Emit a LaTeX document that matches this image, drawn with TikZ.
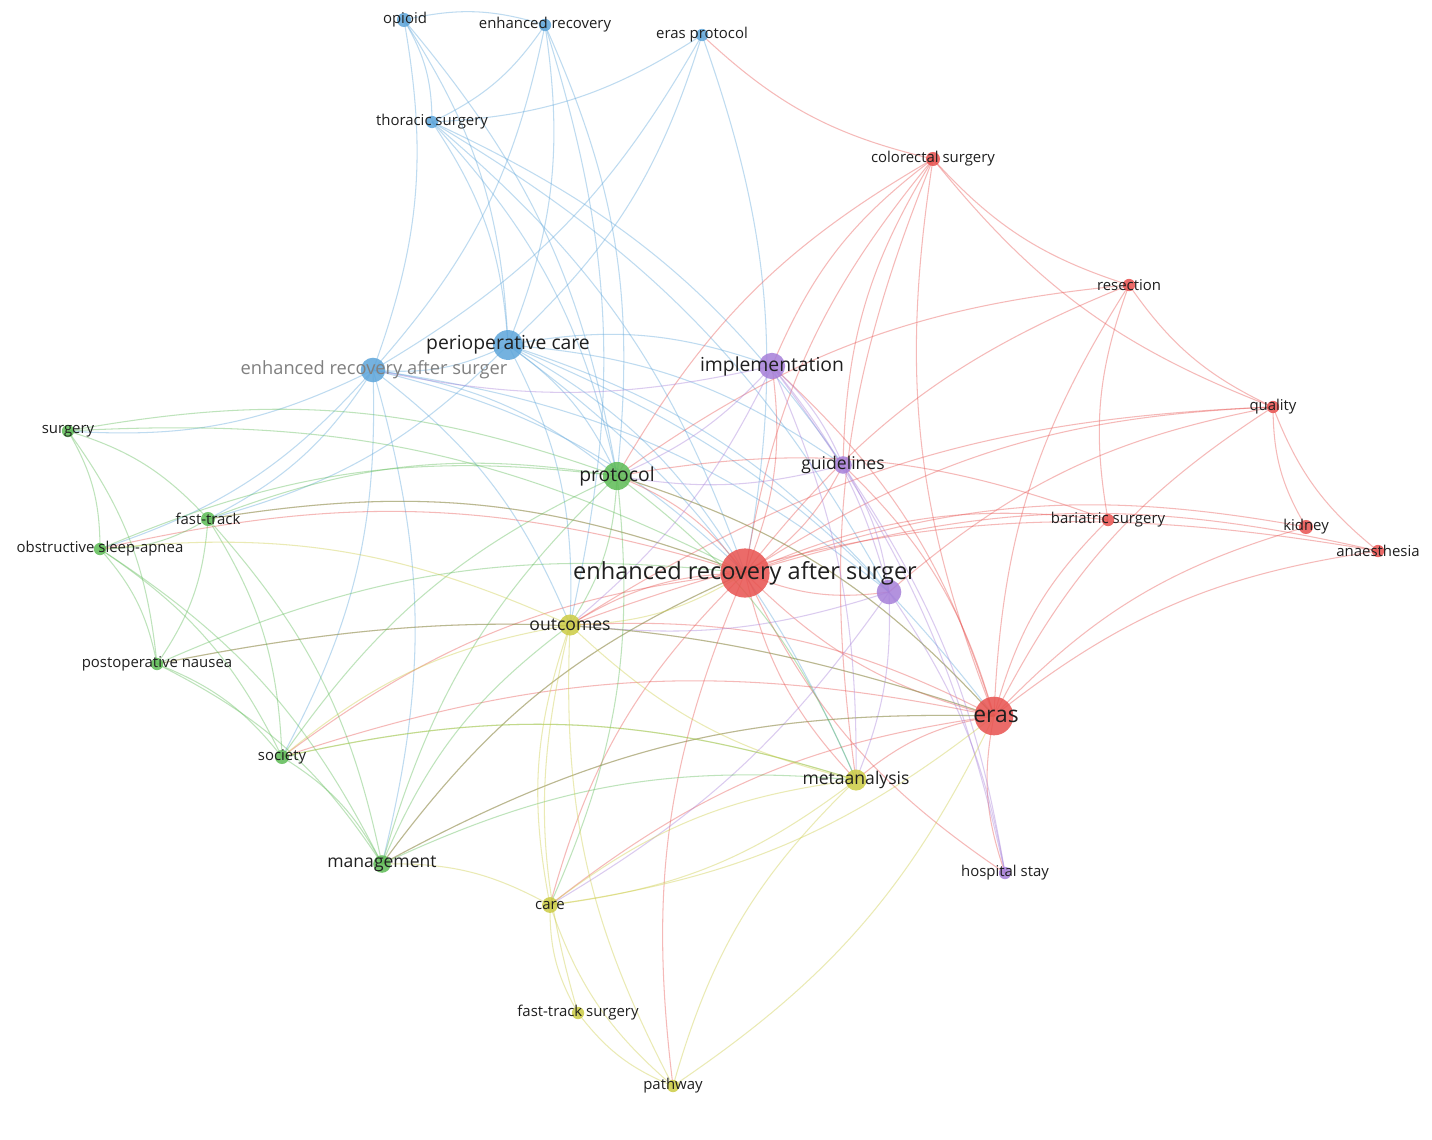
\documentclass[tikz,border=0pt]{standalone}
\usepackage{fontspec}
\setmainfont{Open Sans}
\definecolor{cb}{HTML}{5DA5DA}
\definecolor{cr}{HTML}{E8524F}
\definecolor{cg}{HTML}{5DBB55}
\definecolor{cy}{HTML}{CCCC44}
\definecolor{cp}{HTML}{A67FD9}
\begin{document}
\begin{tikzpicture}[x=0.02cm,y=-0.02cm,
  dot/.style={circle,inner sep=0pt,opacity=0.85},
  lab/.style={font=\fontsize{8.5}{9}\selectfont,text=black!88,inner sep=0pt},
  midlab/.style={font=\fontsize{10}{11}\selectfont,text=black!88,inner sep=0pt},
  biglab/.style={font=\fontsize{11}{12}\selectfont,text=black!88,inner sep=0pt},
  edge/.style={line width=0.6pt,opacity=0.4}]
\useasboundingbox (0,0) rectangle (1432,1139);
\fill[white] (0,0) rectangle (1432,1139);
\coordinate (op) at (404,20);
\coordinate (er) at (545,25);
\coordinate (ep) at (702,35);
\coordinate (th) at (432,122);
\coordinate (pc) at (508,345);
\coordinate (be) at (373,370);
\coordinate (cs) at (933,159);
\coordinate (rs) at (1129,285);
\coordinate (qu) at (1273,407);
\coordinate (ki) at (1306,527);
\coordinate (an) at (1378,551);
\coordinate (ba) at (1108,520);
\coordinate (es) at (994,716);
\coordinate (mn) at (745,573);
\coordinate (im) at (772,366);
\coordinate (gu) at (843,465);
\coordinate (pu) at (889,592);
\coordinate (hs) at (1005,873);
\coordinate (su) at (68,431);
\coordinate (ft) at (208,519);
\coordinate (os) at (100,549);
\coordinate (pn) at (157,664);
\coordinate (so) at (282,757);
\coordinate (ma) at (382,864);
\coordinate (pr) at (617,476);
\coordinate (ou) at (570,625);
\coordinate (me) at (856,780);
\coordinate (ca) at (550,905);
\coordinate (fs) at (578,1013);
\coordinate (pa) at (673,1086);
% edges
\foreach \a/\b in {op/er,op/th,op/be,op/pc,op/pr,er/pc,er/be,er/ou,er/pr,er/th,ep/pc,ep/be,ep/th,ep/mn,th/pc,th/mn,th/pu,th/gu,th/pr,pc/be,pc/pr,pc/mn,pc/im,pc/gu,pc/pu,pc/es,pc/ft,pc/ou,pc/me,be/ft,be/su,be/pr,be/mn,be/so,be/ma,be/ou,be/os,be/pu}
  {\draw[edge,cb] (\a) to[bend left=15] (\b);}
\foreach \a/\b in {ep/cs,cs/mn,cs/es,cs/rs,cs/qu,cs/im,cs/pr,cs/me,cs/gu,rs/qu,rs/ba,rs/mn,rs/es,rs/pr,qu/ki,qu/an,qu/es,qu/mn,qu/pu,qu/ou,ki/es,ki/mn,an/es,an/mn,an/ou,ba/mn,ba/es,ba/pr,mn/es,mn/pr,mn/ou,mn/im,mn/gu,mn/pu,mn/me,mn/ca,mn/ma,mn/so,mn/pa,mn/hs,mn/ft,mn/os,es/pr,es/ou,es/ca,es/ma,es/me,es/hs,es/so,es/pn,es/gu,es/im}
  {\draw[edge,cr] (\a) to[bend right=15] (\b);}
\foreach \a/\b in {im/gu,im/pu,im/pr,im/ou,im/me,im/hs,gu/pu,gu/hs,gu/pr,pu/hs,pu/me,pu/ou,pu/ca,im/be}
  {\draw[edge,cp] (\a) to[bend left=12] (\b);}
\foreach \a/\b in {su/os,su/ft,su/pn,su/pr,su/mn,ft/os,ft/pn,ft/pr,ft/ma,ft/so,ft/mn,os/pn,os/so,os/ma,os/pr,pn/so,pn/ma,pn/mn,pn/es,so/ma,so/pr,so/me,ma/pr,ma/es,ma/ou,ma/mn,ma/me,pr/ou,pr/me,pr/ca,pr/es}
  {\draw[edge,cg] (\a) to[bend left=15] (\b);}
\foreach \a/\b in {ou/ca,ou/me,ou/pa,ou/fs,ou/mn,ca/fs,ca/pa,ca/me,ca/es,fs/pa,me/pa,me/ca,pa/es,ou/so,ca/ma,me/so,ou/os}
  {\draw[edge,cy] (\a) to[bend right=15] (\b);}
% dots
\foreach \n/\c/\s in {op/cb/8,er/cb/7,ep/cb/7,th/cb/7,pc/cb/17,be/cb/14,cs/cr/8,rs/cr/7,qu/cr/7,ki/cr/8,an/cr/7,ba/cr/7,es/cr/22,mn/cr/28,im/cp/15,gu/cp/10,pu/cp/14,hs/cp/7,su/cg/7,ft/cg/8,os/cg/7,pn/cg/7,so/cg/8,ma/cg/10,pr/cg/16,ou/cy/12,me/cy/12,ca/cy/9,fs/cy/7,pa/cy/7}
  {\node[dot,fill=\c,minimum size=\s pt] (d\n) at (\n) {};}
% labels
\node[lab] at (405,20) {opioid};
\node[lab] at (545,25) {enhanced recovery};
\node[lab] at (702,35) {eras protocol};
\node[lab] at (432,122) {thoracic surgery};
\node[biglab] at (508,345) {perioperative care};
\node[font=\fontsize{10.4}{11}\selectfont,text=black!50,inner sep=0pt] at (374,370) {enhanced recovery after surger};
\node[lab] at (933,159) {colorectal surgery};
\node[lab] at (1129,285) {resection};
\node[lab] at (1273,407) {quality};
\node[lab] at (1306,527) {kidney};
\node[lab] at (1378,551) {anaesthesia};
\node[lab] at (1108,520) {bariatric surgery};
\node[font=\fontsize{13}{14}\selectfont,text=black!88,inner sep=0pt] at (996,716) {eras};
\node[font=\fontsize{13.4}{14}\selectfont,text=black!88,inner sep=0pt] at (745,573) {enhanced recovery after surger};
\node[biglab] at (772,366) {implementation};
\node[midlab] at (843,465) {guidelines};
\node[lab] at (1005,873) {hospital stay};
\node[lab] at (68,431) {surgery};
\node[lab] at (208,519) {fast-track};
\node[lab] at (100,549) {obstructive sleep-apnea};
\node[lab] at (157,664) {postoperative nausea};
\node[lab] at (282,757) {society};
\node[midlab] at (382,864) {management};
\node[biglab] at (617,476) {protocol};
\node[midlab] at (570,625) {outcomes};
\node[midlab] at (856,780) {metaanalysis};
\node[lab] at (550,905) {care};
\node[lab] at (578,1013) {fast-track surgery};
\node[lab] at (673,1086) {pathway};
\end{tikzpicture}
\end{document}
